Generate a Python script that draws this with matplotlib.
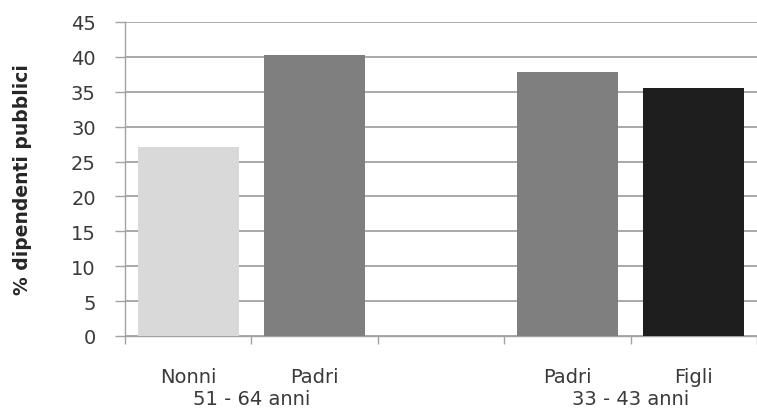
import numpy as np
import matplotlib
matplotlib.use('Agg')
import matplotlib.pyplot as plt
import matplotlib.transforms as mtransforms

# Dati: quota di dipendenti pubblici per generazione (lo slot vuoto separa i due gruppi)
categorie = ['Nonni', 'Padri', '', 'Padri', 'Figli']
valori = [27.1, 40.3, None, 37.9, 35.6]
colori = ['#d9d9d9', '#7f7f7f', None, '#7f7f7f', '#1e1e1e']
gruppi = ['51 - 64 anni', '33 - 43 anni']
centri_gruppi = [0.5, 3.5]
yticks = list(range(0, 50, 5))

testo = '#3a3a3a'
griglia = '#a3a3a3'

fig = plt.figure(figsize=(7.57, 4.10), dpi=100)
ax = fig.add_axes([125 / 757, 73 / 410, 632 / 757, 314 / 410])

# Barre (solo gli slot con un valore)
x = [i for i, v in enumerate(valori) if v is not None]
h = [valori[i] for i in x]
c = [colori[i] for i in x]
ax.bar(x, h, width=0.8, color=c, edgecolor='none', zorder=3)

ax.set_xlim(-0.5, len(categorie) - 0.5)
ax.set_ylim(0, 45)

# Griglia orizzontale e asse y
ax.set_yticks(yticks)
ax.yaxis.grid(True, color=griglia, linewidth=1.3, zorder=0)
ax.tick_params(axis='y', which='major', length=7, width=1.0, color=griglia,
               pad=14, labelsize=14, labelcolor=testo)

# Asse x: etichette al centro delle categorie, tacche ai confini
ax.set_xticks(x)
ax.set_xticklabels([categorie[i] for i in x])
ax.set_xticks(np.arange(-0.5, len(categorie)), minor=True)
ax.tick_params(axis='x', which='major', length=0, pad=22, labelsize=14, labelcolor=testo)
ax.tick_params(axis='x', which='minor', length=6, width=1.0, color=griglia)

for lato in ['top', 'right']:
    ax.spines[lato].set_visible(False)
for lato in ['left', 'bottom']:
    ax.spines[lato].set_color(griglia)
    ax.spines[lato].set_linewidth(1.0)

# Etichette dei gruppi di età sotto le categorie
trans = mtransforms.blended_transform_factory(ax.transData, ax.transAxes)
for g, xc in zip(gruppi, centri_gruppi):
    ax.text(xc, -0.217, g, transform=trans, ha='center', va='baseline',
            fontsize=14, color=testo)

ax.set_ylabel('% dipendenti pubblici', fontsize=13.5, fontweight='bold', color='#262626')
ax.yaxis.set_label_coords(-0.147, 0.5)

fig.savefig('out.png', dpi=100)
